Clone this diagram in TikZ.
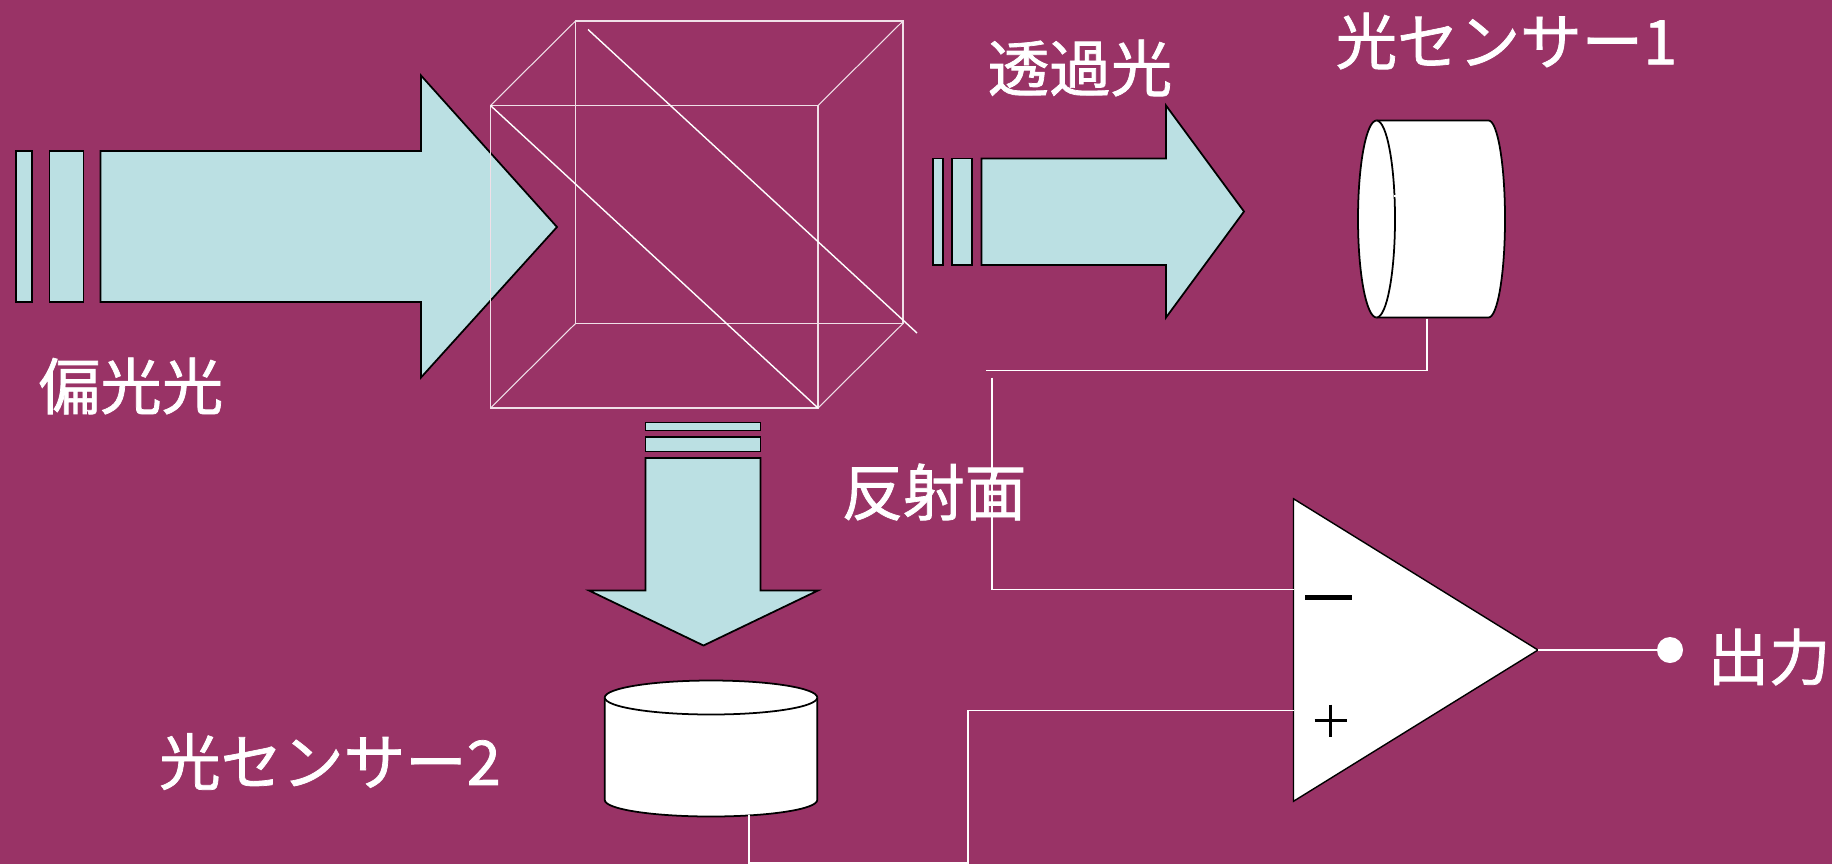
\documentclass[tikz,border=0pt]{standalone}
\usepackage{fontspec}
\newfontfamily\labelfont[FakeBold=1.2]{Noto Sans CJK JP}
\usetikzlibrary{shapes.geometric}
\definecolor{plum}{HTML}{993366}
\definecolor{beamfill}{HTML}{BBE0E3}
\tikzset{
	beam/.style={draw=black,fill=beamfill,line width=1pt,line join=miter},
	cube/.style={draw=white!85!plum,line width=0.6pt},
	mirror/.style={draw=white,line width=0.8pt},
	wire/.style={draw=white,line width=0.9pt},
	label/.style={text=white,font=\labelfont\fontsize{35pt}{35pt}\selectfont,inner sep=0pt},
	sensor/.style={draw=black,fill=white,line width=1pt}
}

\begin{document}
\begin{tikzpicture}
		\useasboundingbox (0,0) rectangle (36.64,-17.28);
		\fill[plum] (0,0) rectangle (36.64,-17.28);
		
		% incoming beam
		\draw[beam] (0.32,-3.02) rectangle (0.64,-6.04);
		\draw[beam] (0.99,-3.02) rectangle (1.67,-6.04);
		\draw[beam] (2.01,-3.02) -- (8.42,-3.02) -- (8.42,-1.51) -- (11.14,-4.54) -- (8.42,-7.55) -- (8.42,-6.04) -- (2.01,-6.04) -- cycle;
		
		% splitter cube
		\draw[cube] (9.81,-2.11) rectangle (16.36,-8.16);
		\draw[cube] (11.51,-0.42) rectangle (18.06,-6.47);
		\draw[cube] (9.81,-2.11) -- (11.51,-0.42);
		\draw[cube] (16.36,-2.11) -- (18.06,-0.42);
		\draw[cube] (9.81,-8.16) -- (11.51,-6.47);
		\draw[cube] (16.36,-8.16) -- (18.06,-6.47);
		\draw[mirror] (9.81,-2.11) -- (16.36,-8.16);
		\draw[mirror] (11.76,-0.59) -- (18.34,-6.66);
		
		% transmitted beam
		\draw[beam] (18.66,-3.17) rectangle (18.86,-5.30);
		\draw[beam] (19.04,-3.17) rectangle (19.44,-5.30);
		\draw[beam] (19.63,-3.17) -- (23.32,-3.17) -- (23.32,-2.11) -- (24.88,-4.23) -- (23.32,-6.35) -- (23.32,-5.30) -- (19.63,-5.30) -- cycle;
		
		% reflected beam
		\draw[beam] (12.91,-8.45) rectangle (15.21,-8.61);
		\draw[beam] (12.91,-8.74) rectangle (15.21,-9.03);
		\draw[beam] (12.91,-9.16) -- (12.91,-11.81) -- (11.78,-11.81) -- (14.07,-12.91) -- (16.36,-11.81) -- (15.21,-11.81) -- (15.21,-9.16) -- cycle;
		
		% sensors
		\draw[sensor] (27.53,-2.41) -- (29.77,-2.41) arc (90:-90:0.33 and 1.97) -- (27.53,-6.35) arc (270:90:0.37 and 1.97) -- cycle;
		\draw[sensor] (27.53,-2.41) arc (90:-90:0.37 and 1.97);
		\fill[white] (27.88,-3.90) rectangle (27.96,-3.94);
		\draw[sensor] (12.095,-13.95) arc (180:0:2.125 and 0.34) -- (16.345,-16.0) arc (0:-180:2.125 and 0.33) -- cycle;
		\draw[sensor] (12.095,-13.95) arc (180:360:2.125 and 0.34);
		
		% amplifier
		\node[isosceles triangle,isosceles triangle stretches,draw=black,fill=white,line width=0.8pt,inner sep=0pt,outer sep=0pt,minimum width=6.05cm,minimum height=4.89cm,anchor=apex] (amp) at (30.76,-13.0) {};
		\node[circle,fill=white,inner sep=0pt,minimum size=0.52cm] (outdot) at (33.40,-13.0) {};
		\fill[black] (26.10,-11.90) rectangle (27.04,-12.00);
		\draw[black,line width=1.4pt] (26.29,-14.41) -- (26.94,-14.41);
		\draw[black,line width=1.4pt] (26.61,-14.09) -- (26.61,-14.73);
		
		% wires
		\coordinate (sensorAout) at (28.54,-6.37);
		\coordinate (wireAend) at (19.72,-7.41);
		\coordinate (wireAstart) at (19.84,-7.55);
		\coordinate (ampminus) at (25.87,-11.79);
		\coordinate (ampplus) at (25.87,-14.21);
		\coordinate (sensorBout) at (14.98,-16.30);
		\coordinate (wireBcorner) at (19.36,-17.26);
		\draw[wire] (sensorAout) |- (wireAend);
		\draw[wire] (wireAstart) |- (ampminus);
		\draw[wire] (sensorBout) |- (wireBcorner) |- (ampplus);
		\draw[wire] (amp.apex) -- (outdot);
		
		% labels
		\node[label] (inlabel) at (2.62,-7.72) {偏光光};
		\node[label] (passlabel) at (21.60,-1.36) {透過光};
		\node[label] (sensorAlabel) at (30.13,-0.82) {光センサー1};
		\node[label] (sensorBlabel) at (6.60,-15.23) {光センサー2};
		\node[label] (mirrorlabel) at (18.68,-9.84) {反射面};
		\node[label] (outlabel) at (35.38,-13.14) {出力};
		\end{tikzpicture}
\end{document}
